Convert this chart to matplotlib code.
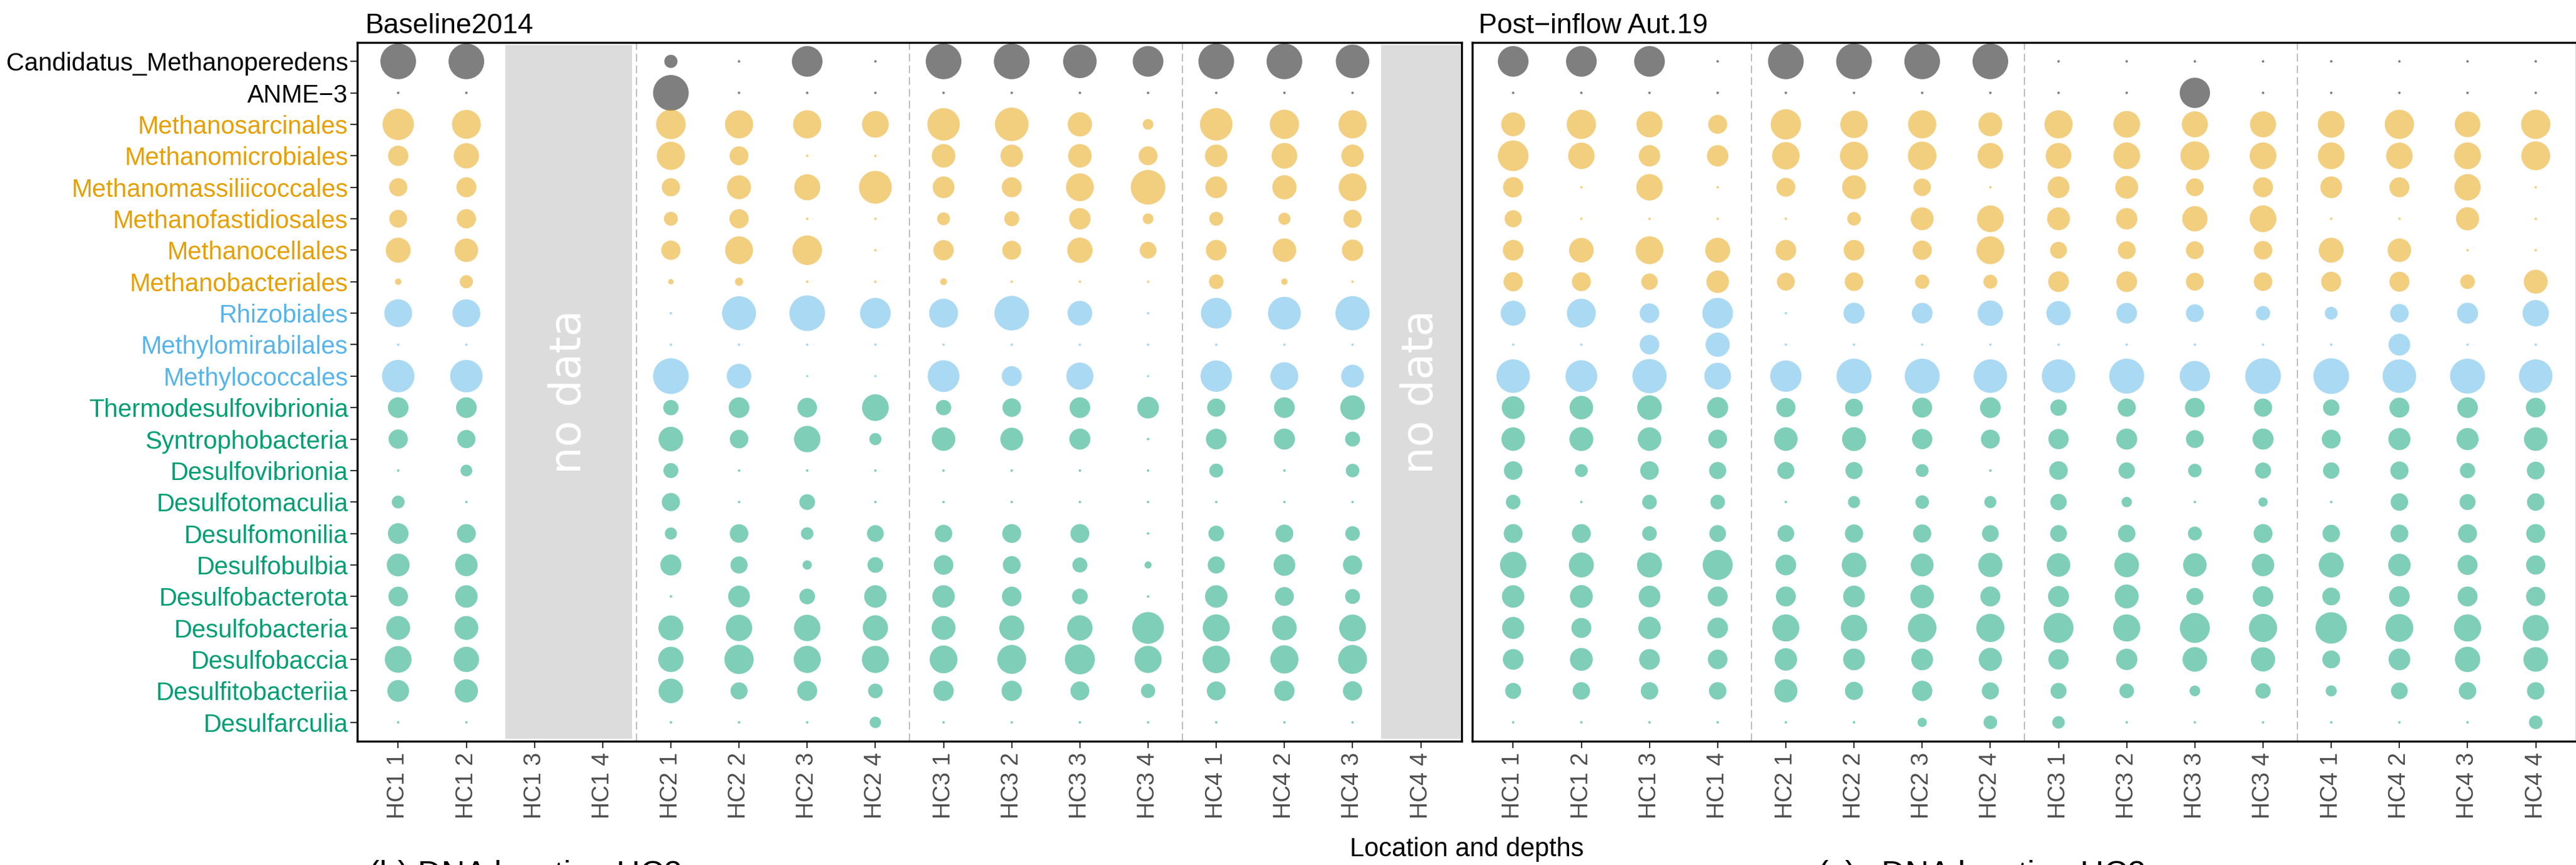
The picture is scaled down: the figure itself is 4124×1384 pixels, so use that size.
import matplotlib
matplotlib.use("Agg")
import matplotlib.pyplot as plt
from matplotlib.patches import Rectangle
import numpy as np

plt.rcParams['font.family'] = ['Liberation Sans', 'DejaVu Sans']

# taxa from top to bottom
taxa = ["Candidatus_Methanoperedens", "ANME\u22123",
        "Methanosarcinales", "Methanomicrobiales", "Methanomassiliicoccales",
        "Methanofastidiosales", "Methanocellales", "Methanobacteriales",
        "Rhizobiales", "Methylomirabilales", "Methylococcales",
        "Thermodesulfovibrionia", "Syntrophobacteria", "Desulfovibrionia",
        "Desulfotomaculia", "Desulfomonilia", "Desulfobulbia",
        "Desulfobacterota", "Desulfobacteria", "Desulfobaccia",
        "Desulfitobacteriia", "Desulfarculia"]
taxa_group = ["anme"] * 2 + ["methanogen"] * 6 + ["methanotroph"] * 3 + ["srb"] * 11

samples = ["HC1 1", "HC1 2", "HC1 3", "HC1 4",
           "HC2 1", "HC2 2", "HC2 3", "HC2 4",
           "HC3 1", "HC3 2", "HC3 3", "HC3 4",
           "HC4 1", "HC4 2", "HC4 3", "HC4 4"]

panel_titles = ["Baseline2014", "Post\u2212inflow Aut.19"]
nodata_baseline = ["HC1 3", "HC1 4", "HC4 4"]

N = None
# relative abundance (bubble scale 0-10), None = no data
baseline = [
    [10, 10, N, N, 3.7, 0, 8.6, 0, 10, 10, 9.4, 8.6, 10, 10, 9.4, N],
    [0, 0, N, N, 10, 0, 0, 0, 0, 0, 0, 0, 0, 0, 0, N],
    [8.8, 8.1, N, N, 8.3, 7.9, 7.9, 7.5, 9.1, 9.4, 6.8, 3.0, 9.1, 8.2, 7.9, N],
    [5.7, 7.1, N, N, 7.9, 5.3, 0, 0, 6.6, 6.3, 6.6, 5.3, 6.3, 7.2, 6.3, N],
    [5.1, 5.6, N, N, 5.1, 6.7, 7.3, 9.2, 6.1, 5.6, 7.8, 9.7, 6.1, 6.8, 7.8, N],
    [5.0, 5.4, N, N, 3.9, 5.4, 0, 0, 3.6, 4.2, 6.0, 3.0, 3.9, 3.4, 5.1, N],
    [7.0, 6.6, N, N, 5.4, 7.8, 8.3, 0, 5.7, 5.3, 7.1, 4.7, 5.8, 6.6, 6.0, N],
    [1.8, 3.7, N, N, 1.5, 2.3, 0, 0, 1.9, 0, 0, 0, 4.1, 1.8, 0, N],
    [7.8, 7.8, N, N, 0, 9.5, 10, 8.6, 8.1, 9.7, 6.9, 0, 8.6, 9.2, 9.6, N],
    [0, 0, N, N, 0, 0, 0, 0, 0, 0, 0, 0, 0, 0, 0, N],
    [9.1, 9.1, N, N, 10, 6.9, 0, 0, 8.9, 5.6, 7.6, 0, 8.8, 7.8, 6.4, N],
    [5.8, 5.8, N, N, 4.3, 5.8, 5.5, 7.5, 4.3, 5.2, 5.8, 6.1, 5.1, 5.8, 6.9, N],
    [5.4, 5.1, N, N, 6.9, 5.2, 7.4, 3.4, 6.6, 6.4, 5.9, 0, 5.8, 5.9, 4.2, N],
    [0, 3.3, N, N, 4.2, 0, 0, 0, 0, 0, 0, 0, 3.9, 0, 3.8, N],
    [3.6, 0, N, N, 5.1, 0, 4.4, 0, 0, 0, 0, 0, 0, 0, 0, N],
    [5.8, 5.3, N, N, 3.4, 5.2, 3.5, 4.7, 4.9, 5.3, 5.3, 0, 4.4, 5.0, 4.1, N],
    [6.4, 6.3, N, N, 5.9, 4.8, 2.6, 4.4, 5.5, 5.0, 4.2, 2.0, 4.8, 6.1, 5.4, N],
    [5.5, 6.3, N, N, 0, 6.1, 4.4, 6.3, 6.3, 5.5, 4.4, 0, 6.3, 5.3, 4.2, N],
    [6.7, 6.7, N, N, 7.0, 7.4, 7.4, 7.1, 6.7, 7.0, 7.1, 8.9, 7.6, 6.9, 7.5, N],
    [7.5, 7.1, N, N, 7.1, 8.2, 7.6, 7.6, 7.8, 8.1, 8.4, 7.6, 7.7, 7.9, 8.1, N],
    [6.1, 6.5, N, N, 6.9, 4.8, 5.6, 4.1, 5.7, 5.7, 5.3, 4.0, 5.3, 5.7, 5.4, N],
    [0, 0, N, N, 0, 0, 0, 3.2, 0, 0, 0, 0, 0, 0, 0, N],
]

postinflow = [
    [8.6, 8.6, 8.6, 0, 10, 10, 10, 10, 0, 0, 0, 0, 0, 0, 0, 0],
    [0, 0, 0, 0, 0, 0, 0, 0, 0, 0, 8.5, 0, 0, 0, 0, 0],
    [6.7, 8.2, 7.3, 5.3, 8.5, 7.7, 7.9, 6.7, 7.9, 7.5, 7.3, 7.3, 7.5, 8.2, 7.2, 8.2],
    [8.6, 7.4, 6.0, 6.0, 7.7, 7.9, 8.0, 7.2, 7.2, 7.5, 8.1, 7.5, 7.5, 7.4, 7.5, 8.1],
    [5.7, 0, 7.4, 0, 5.3, 6.7, 4.9, 0, 6.1, 6.4, 5.0, 5.6, 6.1, 5.6, 7.4, 0],
    [4.8, 0, 0, 0, 0, 3.8, 6.4, 7.5, 6.4, 6.0, 7.1, 7.5, 0, 0, 6.5, 0],
    [5.8, 6.9, 7.8, 7.0, 5.8, 5.8, 5.4, 7.8, 4.7, 5.0, 5.0, 5.2, 7.0, 6.6, 0, 0],
    [5.4, 5.3, 4.6, 6.3, 5.0, 5.2, 4.0, 3.9, 5.8, 5.8, 5.0, 5.2, 5.6, 5.6, 4.1, 6.7],
    [7.0, 8.1, 5.5, 8.6, 0, 5.9, 5.8, 7.1, 6.8, 5.8, 5.0, 4.0, 3.6, 5.2, 5.9, 7.4],
    [0, 0, 5.5, 6.8, 0, 0, 0, 0, 0, 0, 0, 0, 0, 6.1, 0, 0],
    [9.4, 8.9, 9.6, 7.5, 8.8, 9.8, 9.8, 9.4, 9.4, 9.8, 8.5, 10, 10, 9.4, 9.8, 9.4],
    [6.4, 6.6, 6.9, 5.9, 5.4, 5.0, 5.6, 5.8, 4.6, 5.1, 5.5, 5.1, 4.6, 5.6, 5.8, 5.5],
    [6.6, 6.7, 6.6, 5.3, 6.6, 6.7, 5.7, 5.3, 5.7, 5.9, 5.0, 5.9, 5.3, 6.2, 6.2, 6.6],
    [5.2, 3.6, 5.2, 4.8, 4.8, 4.8, 3.6, 0, 5.2, 4.6, 3.8, 4.5, 4.6, 5.1, 4.3, 5.0],
    [4.1, 0, 4.1, 4.1, 0, 3.4, 3.8, 3.4, 4.6, 2.9, 0, 2.6, 0, 4.9, 4.5, 4.9],
    [5.3, 5.3, 4.1, 4.7, 4.7, 5.1, 5.1, 4.7, 4.7, 4.9, 3.9, 5.3, 4.9, 5.0, 5.3, 5.3],
    [7.4, 7.0, 7.0, 8.4, 5.8, 6.9, 6.4, 6.8, 6.6, 6.9, 6.6, 6.3, 7.0, 6.3, 5.6, 5.4],
    [6.3, 6.4, 6.1, 5.6, 5.6, 6.1, 6.6, 5.6, 5.9, 6.7, 4.8, 5.8, 5.0, 5.8, 5.6, 5.4],
    [6.2, 5.6, 6.3, 5.8, 7.6, 7.4, 8.0, 7.9, 8.4, 7.6, 8.4, 7.9, 8.8, 7.8, 7.6, 7.3],
    [5.8, 6.4, 5.8, 5.5, 6.3, 6.1, 6.1, 6.5, 5.7, 6.0, 6.9, 6.8, 5.0, 6.1, 7.1, 6.9],
    [4.5, 4.9, 4.9, 4.9, 6.5, 5.1, 5.7, 4.8, 4.5, 4.1, 3.0, 4.3, 3.1, 4.7, 4.9, 4.9],
    [0, 0, 0, 0, 0, 0, 2.6, 3.8, 3.5, 0, 0, 0, 0, 0, 0, 3.8],
]

point_col = {"anme": "black", "methanogen": "#E69F00",
             "methanotroph": "#56B4E9", "srb": "#009E73"}
label_col = {"anme": "black", "methanogen": "#E69F00",
             "methanotroph": "#56B4E9", "srb": "#009E73"}

W, H = 4124, 1384
fig = plt.figure(figsize=(W / 300, H / 300), dpi=300)

ax1 = fig.add_axes([572 / W, 1 - 1186 / H, 1768 / W, 1118 / H])
ax2 = fig.add_axes([2357 / W, 1 - 1186 / H, 1768 / W, 1118 / H])


def draw_panel(ax, mat, nodata):
    xs, ys, ss, cs = [], [], [], []
    for i, row in enumerate(mat):
        for j, v in enumerate(row):
            if v is None:
                continue
            xs.append(j)
            ys.append(i)
            ss.append((max(v, 0.7) * 1.37) ** 2)
            cs.append(point_col[taxa_group[i]])
    ax.scatter(xs, ys, s=ss, c=cs, alpha=0.5, linewidths=0, zorder=3)

    # grey boxes for missing samples
    idx = [samples.index(s) for s in nodata]
    runs = []
    for k in idx:
        if runs and k == runs[-1][-1] + 1:
            runs[-1].append(k)
        else:
            runs.append([k])
    for r in runs:
        pad = 0.58 if r[-1] == len(samples) - 1 else 0.43
        ax.add_patch(Rectangle((r[0] - pad, -0.52), r[-1] - r[0] + 2 * pad, 22.04,
                               facecolor="#DCDCDC", edgecolor="none", zorder=1))
        ax.text((r[0] + r[-1]) / 2, 10.5, "no data", rotation=90, color="white",
                fontsize=16.5, family="DejaVu Sans", ha="center", va="center", zorder=4)

    for xv in (3.5, 7.5, 11.5):
        ax.axvline(xv, color="#BEBEBE", lw=0.5, ls=(0, (6, 3)), zorder=2)

    ax.set_xlim(-0.6, 15.6)
    ax.set_ylim(21.6, -0.6)
    ax.set_xticks(range(len(samples)))
    ax.set_xticklabels(samples, rotation=90, fontsize=9, color="#4D4D4D")
    ax.tick_params(axis="x", length=2.6, width=0.5, color="#333333", pad=1.6)
    for sp in ax.spines.values():
        sp.set_linewidth(0.8)
        sp.set_color("black")


draw_panel(ax1, baseline, nodata_baseline)
draw_panel(ax2, postinflow, [])

ax1.set_yticks(range(len(taxa)))
ax1.set_yticklabels(taxa, fontsize=9.6)
for lab, g in zip(ax1.get_yticklabels(), taxa_group):
    lab.set_color(label_col[g])
ax1.tick_params(axis="y", length=2.7, width=0.5, color="#333333", pad=0.8)
ax2.set_yticks([])

fig.text(584 / W, 1 - 53 / H, panel_titles[0], fontsize=10.7, va="baseline")
fig.text(2367 / W, 1 - 53 / H, panel_titles[1], fontsize=10.7, va="baseline")
fig.text(2348 / W, 1 - 1370 / H, "Location and depths", fontsize=10,
         ha="center", va="baseline")
# captions of the next panels, cut by the lower edge as in the source image
fig.text(590 / W, 1 - 1376 / H, "(b) DNA location HC2", fontsize=12.6, va="top")
fig.text(2910 / W, 1 - 1376 / H, "(c) cDNA location HC2", fontsize=12.6, va="top")

fig.savefig("out.png", dpi=300)
